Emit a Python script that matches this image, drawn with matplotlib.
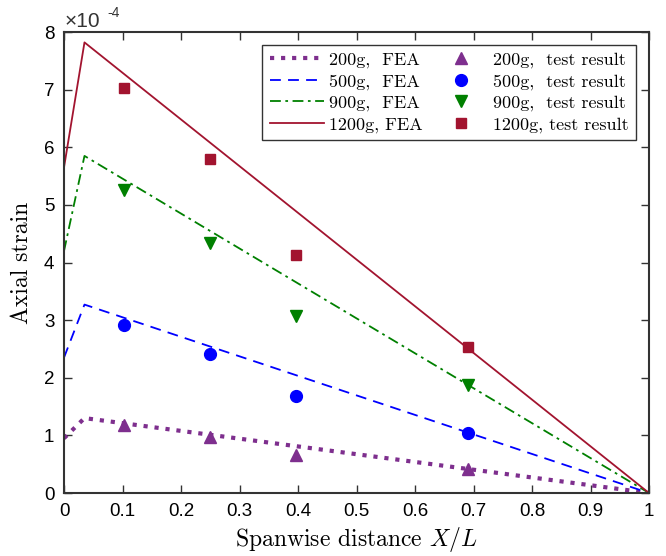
import matplotlib
matplotlib.use("Agg")
import matplotlib.pyplot as plt

plt.rcParams['mathtext.fontset'] = 'cm'
plt.rcParams['axes.unicode_minus'] = False

# FEA lines (x/L, strain in 1e-4)
fea_x = [0.0, 0.035, 1.0]
fea_200 = [0.95, 1.30, 0.0]
fea_500 = [2.35, 3.27, 0.0]
fea_900 = [4.20, 5.85, 0.0]
fea_1200 = [5.65, 7.82, 0.0]

# Test results
test_x = [0.103, 0.25, 0.397, 0.69]
test_200 = [1.18, 0.97, 0.66, 0.42]
test_500 = [2.92, 2.41, 1.68, 1.05]
test_900 = [5.25, 4.33, 3.07, 1.88]
test_1200 = [7.03, 5.79, 4.13, 2.53]

xticks = [0, 0.1, 0.2, 0.3, 0.4, 0.5, 0.6, 0.7, 0.8, 0.9, 1]
xticklabels = ['0', '0.1', '0.2', '0.3', '0.4', '0.5', '0.6', '0.7', '0.8', '0.9', '1']
yticks = [0, 1, 2, 3, 4, 5, 6, 7, 8]

c200, c500, c900, c1200 = '#7E2F8E', '#0000FF', '#008000', '#A2142F'

fig = plt.figure(figsize=(6.66, 5.56), dpi=100)
ax = fig.add_axes([0.0961, 0.1133, 0.8784, 0.8291])

l1, = ax.plot(fea_x, fea_200, ':', color=c200, lw=3.0)
l2, = ax.plot(fea_x, fea_500, '--', color=c500, lw=1.3, dashes=(6, 4))
l3, = ax.plot(fea_x, fea_900, '-.', color=c900, lw=1.3, dashes=(6, 2.5, 1.5, 2.5))
l4, = ax.plot(fea_x, fea_1200, '-', color=c1200, lw=1.3)

m1, = ax.plot(test_x, test_200, '^', color=c200, ms=9, ls='none')
m2, = ax.plot(test_x, test_500, 'o', color=c500, ms=8.5, ls='none')
m3, = ax.plot(test_x, test_900, 'v', color=c900, ms=9, ls='none')
m4, = ax.plot(test_x, test_1200, 's', color=c1200, ms=7, ls='none')

ax.set_xlim(0, 1)
ax.set_ylim(0, 8)
ax.set_xticks(xticks)
ax.set_xticklabels(xticklabels)
ax.set_yticks(yticks)
ax.tick_params(direction='in', top=True, right=True, length=6, width=1.0,
               labelsize=13.5, color='#333333', pad=7)
for lab in ax.get_xticklabels() + ax.get_yticklabels():
    lab.set_family('Liberation Sans')
for s in ax.spines.values():
    s.set_linewidth(1.5)
    s.set_color('#333333')

ax.set_xlabel('Spanwise distance $X/L$', family='cmr10', fontsize=17, labelpad=4)
ax.set_ylabel('Axial strain', family='cmr10', fontsize=17, labelpad=8)

# offset multiplier text
fig.text(0.097, 0.952, '×10', fontsize=15, ha='left', va='baseline',
         family='Liberation Sans', color='#333333')
fig.text(0.161, 0.969, '-4', fontsize=10, ha='left', va='baseline',
         family='Liberation Sans', color='#333333')

labels = ['200g,  FEA', '500g,  FEA', '900g,  FEA', '1200g, FEA',
          '200g,  test result', '500g,  test result', '900g,  test result',
          '1200g, test result']
leg = ax.legend([l1, l2, l3, l4, m1, m2, m3, m4], labels, ncol=2,
                loc='upper right', bbox_to_anchor=(0.978, 0.972),
                prop={'family': 'cmr10', 'size': 13}, fancybox=False,
                edgecolor='#333333', framealpha=1, handlelength=3.0,
                labelspacing=0.3, columnspacing=0.6, handletextpad=0.3,
                borderpad=0.4, borderaxespad=0)
leg.get_frame().set_linewidth(1.0)

fig.savefig('out.png', dpi=100)
